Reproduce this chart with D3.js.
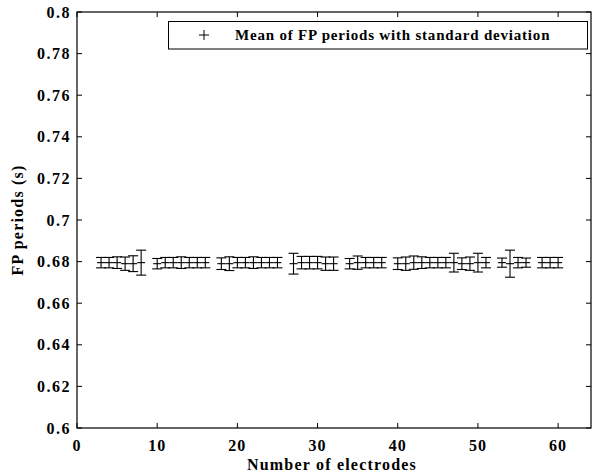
<!DOCTYPE html>
<html><head><meta charset="utf-8">
<script src="https://cdn.jsdelivr.net/npm/d3@7"></script>
<style>
body{margin:0;background:#fff;}
svg text{font-family:"Liberation Serif","Times New Roman",serif;font-weight:bold;fill:#000;}
</style></head>
<body><svg id="c" width="594" height="475"></svg>
<script>
const electrodes = [3,4,5,6,7,8, 10,11,12,13,14,15,16, 18,19,20,21,22,23,24,25, 27,28,29,30,31,32, 34,35,36,37,38, 40,41,42,43,44,45,46,47,48,49,50,51, 53,54,55,56, 58,59,60];
const means = [0.6795,0.6795,0.6795,0.679,0.679,0.6795, 0.679,0.6795,0.6795,0.6795,0.6795,0.6795,0.6795, 0.679,0.679,0.6795,0.6795,0.6795,0.6795,0.6795,0.6795, 0.679,0.6795,0.6795,0.6795,0.679,0.679, 0.679,0.6795,0.6795,0.6795,0.6795, 0.679,0.679,0.6795,0.6795,0.6795,0.6795,0.6795,0.6795,0.679,0.679,0.6795,0.6795, 0.6795,0.679,0.6795,0.6795, 0.6795,0.6795,0.6795];
const stds = [0.0025,0.0025,0.0028,0.0032,0.0038,0.006, 0.0025,0.0025,0.0025,0.0028,0.0025,0.0025,0.0025, 0.0028,0.0033,0.0025,0.0025,0.0028,0.0025,0.0025,0.0025, 0.005,0.003,0.003,0.003,0.0032,0.0032, 0.0025,0.0032,0.0025,0.0025,0.0025, 0.0028,0.0032,0.0032,0.0028,0.0025,0.0025,0.0025,0.0045,0.0028,0.0032,0.0045,0.0025, 0.0022,0.0065,0.0025,0.0022, 0.0025,0.0025,0.0025];
const xTicks = [0,10,20,30,40,50,60];
const yTicks = [0.6,0.62,0.64,0.66,0.68,0.7,0.72,0.74,0.76,0.78,0.8];
const xDomain = [0, 64.1];
const yDomain = [0.6, 0.8];
const legendLabel = "Mean of FP periods with standard deviation";
const xLabel = "Number of electrodes";
const yLabel = "FP periods (s)";

const svg = d3.select("#c");
const L=77, R=591, T=12, B=428;
const x = d3.scaleLinear().domain(xDomain).range([L,R]);
const y = d3.scaleLinear().domain(yDomain).range([B,T]);

svg.append("rect").attr("x",L).attr("y",T).attr("width",R-L).attr("height",B-T)
  .attr("fill","none").attr("stroke","#000").attr("stroke-width",1.2);

const fmtY = d => d3.format(".2f")(d).replace(/0$/,"").replace(/\.0$/,"");
const tk=5;
const gx = svg.append("g");
xTicks.forEach(v=>{
  gx.append("line").attr("x1",x(v)).attr("x2",x(v)).attr("y1",B).attr("y2",B-tk).attr("stroke","#000");
  gx.append("line").attr("x1",x(v)).attr("x2",x(v)).attr("y1",T).attr("y2",T+tk).attr("stroke","#000");
  gx.append("text").attr("x",x(v)).attr("y",451).attr("text-anchor","middle")
    .style("font-size","16px").style("letter-spacing","1px").text(v);
});
const gy = svg.append("g");
yTicks.forEach(v=>{
  gy.append("line").attr("x1",L).attr("x2",L+tk).attr("y1",y(v)).attr("y2",y(v)).attr("stroke","#000");
  gy.append("line").attr("x1",R).attr("x2",R-tk).attr("y1",y(v)).attr("y2",y(v)).attr("stroke","#000");
  gy.append("text").attr("x",71).attr("y",y(v)+5.5).attr("text-anchor","end")
    .style("font-size","16px").style("letter-spacing","1.5px").text(fmtY(v));
});

svg.append("text").attr("x",(L+R)/2-2).attr("y",470).attr("text-anchor","middle")
  .style("font-size","16px").style("letter-spacing","1.2px").text(xLabel);
svg.append("text").attr("transform",`translate(23,${(T+B)/2}) rotate(-90)`).attr("text-anchor","middle")
  .style("font-size","16px").style("letter-spacing","1.2px").text(yLabel);

const data = electrodes.map((e,i)=>({e, m:means[i], s:stds[i]}));
const cap=5;
const g = svg.append("g").attr("stroke","#000").attr("stroke-width",1.1);
data.forEach(d=>{
  const cx=x(d.e), y1=y(d.m-d.s), y2=y(d.m+d.s), cy=y(d.m);
  g.append("line").attr("x1",cx).attr("x2",cx).attr("y1",y1).attr("y2",y2);
  g.append("line").attr("x1",cx-cap).attr("x2",cx+cap).attr("y1",y1).attr("y2",y1);
  g.append("line").attr("x1",cx-cap).attr("x2",cx+cap).attr("y1",y2).attr("y2",y2);
  g.append("line").attr("x1",cx-4).attr("x2",cx+4).attr("y1",cy).attr("y2",cy);
});

const lg = svg.append("g");
lg.append("rect").attr("x",168.5).attr("y",21.5).attr("width",419).attr("height",27.5)
  .attr("fill","#fff").attr("stroke","#000").attr("stroke-width",1);
lg.append("line").attr("x1",199).attr("x2",209).attr("y1",35).attr("y2",35).attr("stroke","#000");
lg.append("line").attr("x1",204).attr("x2",204).attr("y1",30).attr("y2",40).attr("stroke","#000");
lg.append("text").attr("x",235).attr("y",40).style("font-size","15px").style("letter-spacing","0.8px").text(legendLabel);
</script></body></html>
